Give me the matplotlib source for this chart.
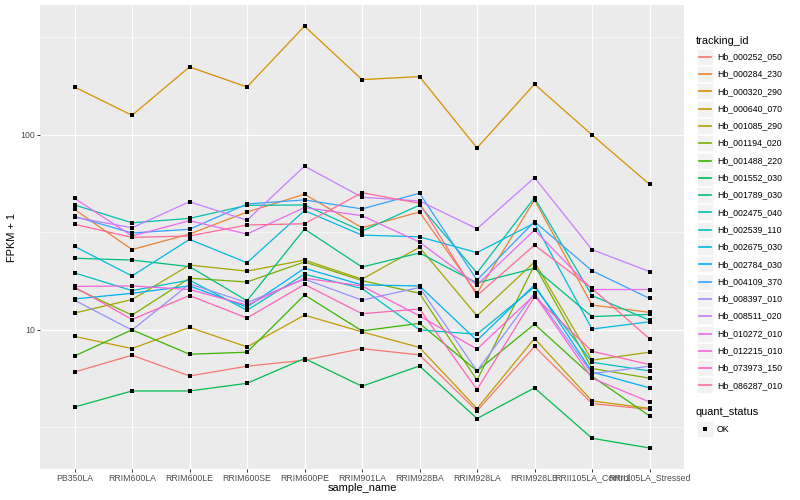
import numpy as np
import matplotlib
matplotlib.use("Agg")
import matplotlib.pyplot as plt
from matplotlib.patches import Rectangle
from matplotlib.lines import Line2D

plt.rcParams['font.family'] = ['Liberation Sans', 'DejaVu Sans']

# x categories
samples = ["PB350LA", "RRIM600LA", "RRIM600LE", "RRIM600SE", "RRIM600PE",
           "RRIM901LA", "RRIM928BA", "RRIM928LA", "RRIM928LB",
           "RRII105LA_Control", "RRII105LA_Stressed"]

tracking_ids = ["Hb_000252_050", "Hb_000284_230", "Hb_000320_290", "Hb_000640_070",
                "Hb_001085_290", "Hb_001194_020", "Hb_001488_220", "Hb_001552_030",
                "Hb_001789_030", "Hb_002475_040", "Hb_002539_110", "Hb_002675_030",
                "Hb_002784_030", "Hb_004109_370", "Hb_008397_010", "Hb_008511_020",
                "Hb_010272_010", "Hb_012215_010", "Hb_073973_150", "Hb_086287_010"]

# FPKM + 1 per sample
hb_000252_050 = [6.08, 7.41, 5.80, 6.51, 6.99, 8.01, 7.44, 3.84, 8.22, 4.19, 3.91]
hb_000284_230 = [41.5, 25.8, 31.0, 40.2, 49.6, 33.4, 40.2, 15.4, 46.4, 13.4, 12.3]
hb_000320_290 = [176, 126, 223, 176, 361, 192, 199, 85.7, 182, 100, 55.8]
hb_000640_070 = [9.25, 8.02, 10.3, 8.18, 11.9, 9.77, 8.12, 3.95, 9.03, 4.32, 3.96]
hb_001085_290 = [12.2, 14.3, 21.5, 20.0, 22.8, 18.2, 26.5, 11.8, 22.3, 6.99, 7.68]
hb_001194_020 = [16.4, 11.9, 18.4, 17.6, 22.3, 17.9, 15.4, 5.52, 21.5, 6.34, 5.65]
hb_001488_220 = [7.35, 10.0, 7.50, 7.68, 15.1, 9.88, 10.8, 6.16, 10.7, 5.78, 3.62]
hb_001552_030 = [4.02, 4.86, 4.86, 5.32, 7.13, 5.14, 6.53, 3.51, 5.04, 2.78, 2.48]
hb_001789_030 = [23.3, 22.8, 21.1, 14.1, 32.9, 21.0, 24.8, 17.4, 20.7, 11.7, 12.0]
hb_002475_040 = [43.7, 35.4, 37.3, 43.5, 43.7, 32.1, 43.6, 19.6, 47.6, 15.0, 11.2]
hb_002539_110 = [19.6, 15.9, 18.0, 12.6, 19.3, 16.3, 10.0, 9.50, 16.6, 6.82, 6.16]
hb_002675_030 = [26.8, 18.9, 29.1, 22.1, 40.9, 30.6, 30.0, 24.9, 35.3, 10.1, 11.0]
hb_002784_030 = [14.4, 15.4, 16.8, 13.1, 20.7, 17.0, 16.8, 8.82, 17.0, 6.08, 5.04]
hb_004109_370 = [38.2, 31.4, 32.8, 44.2, 46.4, 41.7, 50.2, 18.0, 35.9, 20.1, 14.5]
hb_008397_010 = [14.2, 9.97, 17.2, 13.8, 18.2, 14.2, 16.5, 6.16, 15.4, 5.96, 6.51]
hb_008511_020 = [37.8, 33.4, 45.4, 36.5, 69.1, 47.9, 45.8, 33.0, 60.4, 25.8, 19.9]
hb_010272_010 = [47.3, 30.3, 36.3, 31.0, 42.4, 38.5, 28.2, 17.0, 32.5, 16.1, 16.1]
hb_012215_010 = [16.7, 16.8, 16.1, 13.4, 18.4, 16.8, 11.8, 7.96, 15.1, 5.65, 4.27]
hb_073973_150 = [16.6, 11.3, 15.0, 11.5, 17.1, 12.1, 12.8, 4.94, 14.8, 7.77, 6.64]
hb_086287_010 = [34.8, 29.8, 30.3, 34.5, 35.0, 50.5, 44.6, 15.0, 27.2, 16.3, 9.0]

series = [hb_000252_050, hb_000284_230, hb_000320_290, hb_000640_070,
          hb_001085_290, hb_001194_020, hb_001488_220, hb_001552_030,
          hb_001789_030, hb_002475_040, hb_002539_110, hb_002675_030,
          hb_002784_030, hb_004109_370, hb_008397_010, hb_008511_020,
          hb_010272_010, hb_012215_010, hb_073973_150, hb_086287_010]


def hcl_to_hex(h, c, l):
    # polar LUV -> sRGB, same as R's hcl()
    hr = np.radians(h)
    u, v = c * np.cos(hr), c * np.sin(hr)
    xn, yn, zn = 95.047, 100.0, 108.883
    den = xn + 15 * yn + 3 * zn
    un, vn = 4 * xn / den, 9 * yn / den
    Y = yn * ((l + 16) / 116) ** 3 if l > 8 else yn * l / 903.3
    up = u / (13 * l) + un
    vp = v / (13 * l) + vn
    X = 9 * Y * up / (4 * vp)
    Z = -X / 3 - 5 * Y + 3 * Y / vp
    rgb = [(3.240479 * X - 1.537150 * Y - 0.498535 * Z) / 100,
           (-0.969256 * X + 1.875992 * Y + 0.041556 * Z) / 100,
           (0.055648 * X - 0.204043 * Y + 1.057311 * Z) / 100]
    out = []
    for ch in rgb:
        ch = 12.92 * ch if ch <= 0.0031308 else 1.055 * ch ** (1 / 2.4) - 0.055
        out.append(float(min(max(ch, 0), 1)))
    return tuple(out)


def hue_pal(n):
    hues = np.linspace(15, 375, n + 1)[:-1]
    return [hcl_to_hex(h % 360, 100, 65) for h in hues]


colors = hue_pal(len(tracking_ids))

W, H = 800, 500


def fx(px):
    return px / W


def fy(py):
    return 1 - py / H


fig = plt.figure(figsize=(8, 5), dpi=100)
fig.patch.set_facecolor("white")
ax = fig.add_axes([fx(40), fy(468.7), (684 - 40) / W, (468.7 - 5) / H])
ax.set_facecolor("#EBEBEB")

x = np.arange(len(samples))
for vals, col in zip(series, colors):
    ax.plot(x, vals, color=col, lw=0.9, zorder=2, solid_capstyle="butt")
for vals in series:
    ax.plot(x, vals, "s", color="black", ms=2.4, mew=0, zorder=3)

ax.set_yscale("log")
ax.set_ylim(10 ** 0.288, 10 ** 2.666)
ax.set_xlim(-0.6, len(samples) - 0.4)
ax.set_yticks([10, 100])
ax.set_yticklabels(["10", "100"])
ax.set_yticks([10 ** 0.5, 10 ** 1.5, 10 ** 2.5], minor=True)
ax.set_xticks(x)
ax.set_xticklabels(samples)
ax.tick_params(axis="both", which="major", labelsize=6.3, color="#333333",
               labelcolor="#4D4D4D", length=2, width=0.7, pad=1.5)
ax.tick_params(axis="y", which="minor", length=0)
ax.grid(True, which="major", color="white", lw=0.8)
ax.grid(True, which="minor", axis="y", color="white", lw=0.4)
ax.set_axisbelow(True)
for s in ax.spines.values():
    s.set_visible(False)

fig.text(fx(362), fy(488), "sample_name", fontsize=7.9, ha="center", va="center")
fig.text(fx(12), fy(237), "FPKM + 1", fontsize=7.9, ha="center", va="center",
         rotation=90)

# legend: tracking_id
fig.text(fx(696), fy(40.7), "tracking_id", fontsize=7.9, ha="left", va="center")
pitch = 17.3
for i, (tid, col) in enumerate(zip(tracking_ids, colors)):
    cy = 56.7 + i * pitch
    fig.patches.append(Rectangle((fx(696.7), fy(cy + 8)), 16 / W, 16 / H,
                                 transform=fig.transFigure, facecolor="#F2F2F2",
                                 edgecolor="white", lw=0.5, zorder=1))
    fig.lines.append(Line2D([fx(698.5), fx(711)], [fy(cy), fy(cy)],
                            transform=fig.transFigure, color=col, lw=1.2,
                            zorder=5))
    fig.text(fx(717), fy(cy), tid, fontsize=6.3, ha="left", va="center")

# legend: quant_status
fig.text(fx(696), fy(412), "quant_status", fontsize=7.9, ha="left", va="center")
fig.patches.append(Rectangle((fx(696.7), fy(437)), 16 / W, 16 / H,
                             transform=fig.transFigure, facecolor="#F2F2F2",
                             edgecolor="white", lw=0.5, zorder=1))
fig.lines.append(Line2D([fx(704.7)], [fy(429)], transform=fig.transFigure,
                        marker="s", color="black", ms=2.4, mew=0, ls="none",
                        zorder=5))
fig.text(fx(717), fy(429), "OK", fontsize=6.3, ha="left", va="center")

fig.savefig("out.png", dpi=100)
